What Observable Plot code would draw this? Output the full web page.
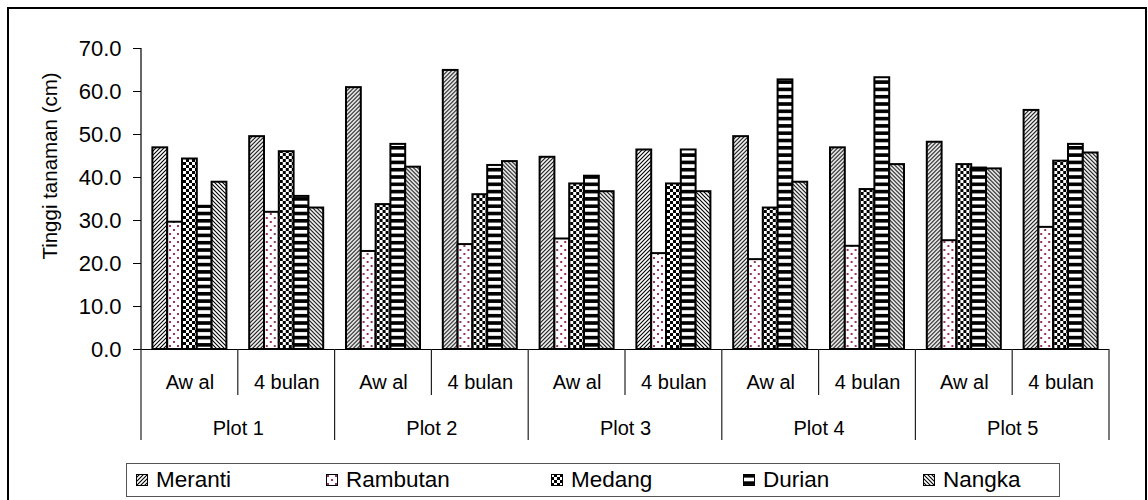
<!DOCTYPE html>
<html><head><meta charset="utf-8">
<script src="https://cdn.jsdelivr.net/npm/d3@7"></script>
<script src="https://cdn.jsdelivr.net/npm/@observablehq/plot@0.6"></script>
<style>
html,body{margin:0;padding:0;background:#fff;}
body{width:1148px;height:500px;position:relative;overflow:hidden;font-family:"Liberation Sans",Arial,sans-serif;color:#000;}
#frame{position:absolute;left:7px;top:7px;width:1136px;height:520px;border-left:2px solid #000;border-top:2px solid #000;border-right:2px solid #000;}
#chart{position:absolute;left:0;top:0;}
#ylabel{position:absolute;left:50px;top:166px;transform:translate(-50%,-50%) rotate(-90deg);white-space:nowrap;font-size:20.5px;}
#legend{position:absolute;left:126px;top:463px;width:932px;height:32px;border:1px solid #555;}
.item{position:absolute;top:0;height:32px;display:flex;align-items:center;font-size:22.5px;white-space:nowrap;}
.item svg{margin-right:8px;}
</style></head><body>
<div id="frame"></div>
<svg width="0" height="0" style="position:absolute;left:0;top:0">
 <defs>
  <pattern id="pat0" patternUnits="userSpaceOnUse" width="4" height="4">
   <rect width="4" height="4" fill="#fff"/>
   <path d="M-1,1 L1,-1 M0,4 L4,0 M3,5 L5,3" stroke="#000" stroke-width="1.1"/>
  </pattern>
  <pattern id="pat1" patternUnits="userSpaceOnUse" width="8" height="8">
   <rect width="8" height="8" fill="#fff"/>
   <rect x="1" y="1" width="2" height="2" fill="#993366"/>
   <rect x="5" y="5" width="2" height="2" fill="#993366"/>
  </pattern>
  <pattern id="pat2" patternUnits="userSpaceOnUse" width="6" height="6">
   <rect width="6" height="6" fill="#000"/>
   <rect x="0" y="0" width="3" height="3" fill="#fff"/>
   <rect x="3" y="3" width="3" height="3" fill="#fff"/>
  </pattern>
  <pattern id="pat3" patternUnits="userSpaceOnUse" width="7.3" height="7.3">
   <rect width="7.3" height="7.3" fill="#fff"/>
   <rect x="0" y="0" width="7.3" height="3.6" fill="#000"/>
  </pattern>
  <pattern id="pat4" patternUnits="userSpaceOnUse" width="4" height="4">
   <rect width="4" height="4" fill="#fff"/>
   <path d="M-1,3 L1,5 M0,0 L4,4 M3,-1 L5,1" stroke="#000" stroke-width="1.1"/>
  </pattern>
 </defs>
</svg>
<div id="chart"></div>
<div id="ylabel">Tinggi tanaman (cm)</div>
<div id="legend"></div>
<script>
const species = ["Meranti", "Rambutan", "Medang", "Durian", "Nangka"];
const plots = ["Plot 1", "Plot 2", "Plot 3", "Plot 4", "Plot 5"];
const stages = ["Aw al", "4 bulan"];
const yTicks = [0, 10, 20, 30, 40, 50, 60, 70];
// values in order: Plot1 Awal, Plot1 4 bulan, Plot2 Awal, ...
const meranti  = [46.9, 49.5, 60.9, 64.9, 44.7, 46.4, 49.5, 46.9, 48.2, 55.6];
const rambutan = [29.6, 31.9, 22.8, 24.4, 25.7, 22.3, 20.9, 24.0, 25.3, 28.4];
const medang   = [44.3, 46.0, 33.7, 36.0, 38.5, 38.5, 32.9, 37.2, 43.0, 43.8];
const durian   = [33.3, 35.6, 47.7, 42.8, 40.3, 46.4, 62.7, 63.2, 42.2, 47.7];
const nangka   = [38.9, 32.9, 42.4, 43.7, 36.7, 36.7, 38.9, 43.0, 42.0, 45.7];
const seriesValues = [meranti, rambutan, medang, durian, nangka];
const legendLeft = [9, 199, 424, 616, 796];

const keys = plots.flatMap(p => stages.map(s => p + "|" + s));
const rows = [];
plots.forEach((p, pi) => stages.forEach((s, si) => species.forEach((sp, k) => {
  rows.push({plot: p, stage: s, key: p + "|" + s, species: sp, value: seriesValues[k][pi * 2 + si]});
})));

const chart = Plot.plot({
  width: 1148, height: 450,
  marginTop: 48, marginBottom: 101, marginLeft: 141, marginRight: 39,
  style: {fontFamily: "Liberation Sans, Arial, sans-serif", fontSize: "20px", color: "#000", background: "transparent", overflow: "visible"},
  facet: {data: rows, x: "key"},
  fx: {domain: keys, padding: 0, round: false, label: null},
  x: {domain: species, paddingInner: 0, paddingOuter: 0.77, round: false, axis: null},
  y: {domain: [0, 70], label: null},
  marks: [
    ...species.map((sp, i) => Plot.barY(rows, {
      filter: d => d.species === sp, x: "species", y: "value",
      fill: `url(#pat${i})`, stroke: "#000", strokeWidth: 2
    })),
    Plot.ruleY([0], {stroke: "#000", strokeWidth: 1}),
    Plot.axisY(yTicks, {tickSize: 8, tickPadding: 12, tickFormat: d3.format(".1f"), fontSize: 22, label: null, stroke: "#000"}),
    Plot.axisFx({anchor: "bottom", tickSize: 0, tickPadding: 25, tickFormat: k => k.split("|")[1], fontSize: 20, label: null}),
    Plot.text(rows, {
      filter: d => d.stage === stages[0] && d.species === species[0],
      text: "plot", frameAnchor: "bottom-right", textAnchor: "middle", lineAnchor: "bottom", dy: 85, fontSize: 20
    })
  ]
});
document.getElementById("chart").appendChild(chart);

// axis lines & category separators, placed from the plot's own scales
const fx = chart.scale("fx"), y = chart.scale("y");
const g = d3.select(chart).append("g").attr("stroke", "#222").attr("stroke-width", 1.2);
const x0 = fx.apply(keys[0]);
g.append("line").attr("x1", x0).attr("x2", x0).attr("y1", y.apply(0)).attr("y2", y.apply(70)).attr("stroke", "#000");
for (let i = 0; i <= keys.length; i++) {
  const xx = i < keys.length ? fx.apply(keys[i]) : fx.apply(keys[keys.length - 1]) + fx.bandwidth;
  const len = i % 2 === 0 ? 91 : 46;
  g.append("line").attr("x1", xx).attr("x2", xx).attr("y1", y.apply(0)).attr("y2", y.apply(0) + len);
}

// legend
const legend = document.getElementById("legend");
species.forEach((sp, i) => {
  const it = document.createElement("div");
  it.className = "item";
  it.style.left = legendLeft[i] + "px";
  it.innerHTML = `<svg width="12" height="12"><rect x="0.5" y="0.5" width="11" height="11" fill="url(#pat${i})" stroke="#000" stroke-width="1"/></svg><span>${sp}</span>`;
  legend.appendChild(it);
});
</script>
</body></html>
